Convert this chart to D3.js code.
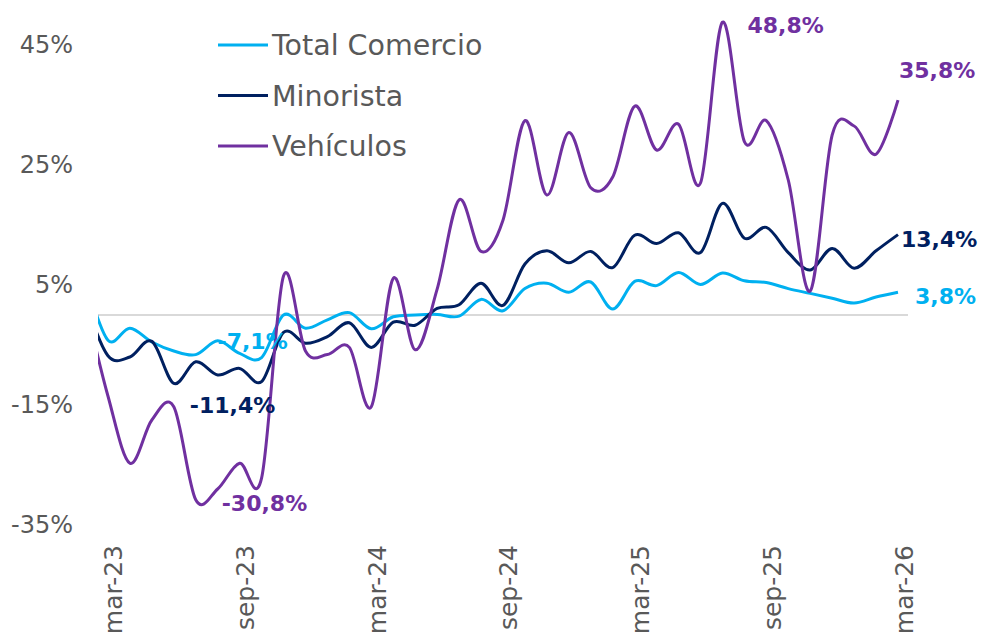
<!DOCTYPE html>
<html>
<head>
<meta charset="utf-8">
<script src="https://cdn.jsdelivr.net/npm/d3@7/dist/d3.min.js"></script>
<style>
  body { margin: 0; background: #fff; }
  svg { display: block; }
  text { font-family: "DejaVu Sans", sans-serif; }
</style>
</head>
<body>
<div class="chart"></div>
<script>
// months feb-23 .. mar-26 (feb-23 only enters from the left edge of the plot)
let months = ["feb-23", "mar-23", "abr-23", "may-23", "jun-23", "jul-23", "ago-23", "sep-23", "oct-23", "nov-23", "dic-23", "ene-24", "feb-24",
    "mar-24", "abr-24", "may-24", "jun-24", "jul-24", "ago-24", "sep-24", "oct-24", "nov-24", "dic-24", "ene-25", "feb-25",
    "mar-25", "abr-25", "may-25", "jun-25", "jul-25", "ago-25", "sep-25", "oct-25", "nov-25", "dic-25", "ene-26", "feb-26", "mar-26"];

let xTicks = ["mar-23", "sep-23", "mar-24", "sep-24", "mar-25", "sep-25", "mar-26"];
let yTicks = [-35, -15, 5, 25, 45];

let totalComercio = [5.5, -4.2, -2.2, -4.5, -6.0, -6.6, -4.3, -6.4, -7.1, 0.0, -2.2, -0.8, 0.4, -2.3, -0.3, 0.0, 0.1, -0.2, 2.6, 0.7,
    4.4, 5.3, 3.8, 5.5, 1.0, 5.6, 4.9, 7.1, 5.1, 7.0, 5.7, 5.4, 4.4, 3.6, 2.8, 2.0, 3.0, 3.8];

let minorista = [2.0, -6.8, -7.0, -4.4, -11.4, -7.8, -10.0, -8.9, -11.1, -2.9, -4.7, -3.6, -1.3, -5.4, -1.2, -1.7, 1.1, 1.7, 5.3, 1.6,
    8.5, 10.7, 8.7, 10.6, 7.9, 13.3, 11.9, 13.7, 10.4, 18.6, 12.8, 14.6, 10.4, 7.5, 11.1, 7.8, 10.7, 13.4];

let vehiculos = [1.5, -13.5, -24.7, -17.5, -15.3, -30.8, -29.0, -24.7, -27.2, 6.5, -6.0, -6.6, -5.4, -15.3, 6.1, -5.8, 4.3, 19.2, 10.6, 15.8,
    32.4, 20.0, 30.4, 21.2, 23.0, 34.8, 27.5, 31.8, 22.0, 48.8, 28.9, 32.4, 22.5, 4.0, 30.0, 31.5, 26.8, 35.8];

let seriesNames = ["Total Comercio", "Minorista", "Vehículos"];

// which points get a value label: series, month
let labelPoints = [
    { s: 2, m: "jul-25", dx: 25, dy: 11 },
    { s: 2, m: "mar-26", dx: 1, dy: -22 },
    { s: 1, m: "mar-26", dx: 3, dy: 12 },
    { s: 0, m: "mar-26", dx: 17, dy: 12 },
    { s: 1, m: "jun-23", dx: 16, dy: 30 },
    { s: 2, m: "jul-23", dx: 26, dy: 11 },
    { s: 0, m: "oct-23", dx: -44, dy: -9 }
];

let chart = {};
chart.colors = ["#00b0f0", "#002060", "#7030a0"];

chart.series = [totalComercio, minorista, vehiculos].map((vals, k) => {
    return {
        name: seriesNames[k],
        color: chart.colors[k],
        values: vals.map((v, i) => ({ month: months[i], val: v }))
    };
});

chart.svg = d3.select(".chart").append("svg")
    .attr("width", 984)
    .attr("height", 639);

chart.xScale = d3.scalePoint()
    .domain(months)
    .range([86, 898]);

chart.yScale = d3.scaleLinear()
    .domain([-35, 45])
    .range([525, 45]);

chart.line = d3.line()
    .x(d => chart.xScale(d.month))
    .y(d => chart.yScale(d.val))
    .curve(d3.curveCardinal.tension(0));

// plot area clip, lines enter from the left edge
chart.svg.append("clipPath")
    .attr("id", "plot-clip")
    .append("rect")
    .attr("x", 98)
    .attr("y", 0)
    .attr("width", 810)
    .attr("height", 639);

// zero line
chart.svg.append("line")
    .attr("x1", 98)
    .attr("x2", 908)
    .attr("y1", chart.yScale(0))
    .attr("y2", chart.yScale(0))
    .attr("stroke", "#d9d9d9")
    .attr("stroke-width", 2);

// y axis
chart.yAxis = chart.svg.append("g")
    .attr("transform", "translate(75,0)")
    .call(d3.axisLeft(chart.yScale)
        .tickValues(yTicks)
        .tickSize(0)
        .tickPadding(2)
        .tickFormat(d => d + "%"));
chart.yAxis.select(".domain").remove();
chart.yAxis.selectAll("text")
    .attr("fill", "#595959")
    .style("font-size", "24px")
    .style("font-family", "DejaVu Sans");

// x axis, labels turned upright
chart.xAxis = chart.svg.append("g")
    .attr("transform", "translate(0,545)")
    .call(d3.axisBottom(chart.xScale)
        .tickValues(xTicks)
        .tickSize(0));
chart.xAxis.select(".domain").remove();
chart.xAxis.selectAll("text")
    .attr("transform", "rotate(-90)")
    .attr("x", 0)
    .attr("y", 14)
    .attr("dy", 0)
    .attr("text-anchor", "end")
    .attr("fill", "#595959")
    .style("font-size", "25px")
    .style("font-family", "DejaVu Sans");

// lines
chart.svg.append("g")
    .attr("clip-path", "url(#plot-clip)")
    .selectAll(".serie")
    .data(chart.series)
    .enter()
    .append("path")
    .attr("class", "serie")
    .attr("d", d => chart.line(d.values))
    .attr("fill", "none")
    .attr("stroke", d => d.color)
    .attr("stroke-width", 3)
    .attr("stroke-linejoin", "round");

// value labels
let fmt = v => v.toFixed(1).replace(".", ",") + "%";
let pointOf = d => chart.series[d.s].values[months.indexOf(d.m)];

chart.svg.selectAll(".val-label")
    .data(labelPoints)
    .enter()
    .append("text")
    .attr("class", "val-label")
    .attr("x", d => chart.xScale(d.m) + d.dx)
    .attr("y", d => chart.yScale(pointOf(d).val) + d.dy)
    .attr("fill", d => chart.colors[d.s])
    .style("font-size", "22px")
    .style("font-weight", "bold")
    .text(d => fmt(pointOf(d).val));

// legend
chart.legend = chart.svg.selectAll(".legend")
    .data(chart.series)
    .enter()
    .append("g")
    .attr("class", "legend")
    .attr("transform", (d, i) => `translate(218,${45 + i * 50.5})`);

chart.legend.append("line")
    .attr("x1", 0)
    .attr("x2", 50)
    .attr("stroke", d => d.color)
    .attr("stroke-width", 3);

chart.legend.append("text")
    .attr("x", 54)
    .attr("dy", "0.36em")
    .attr("fill", "#595959")
    .style("font-size", "28.5px")
    .text(d => d.name);
</script>
</body>
</html>
